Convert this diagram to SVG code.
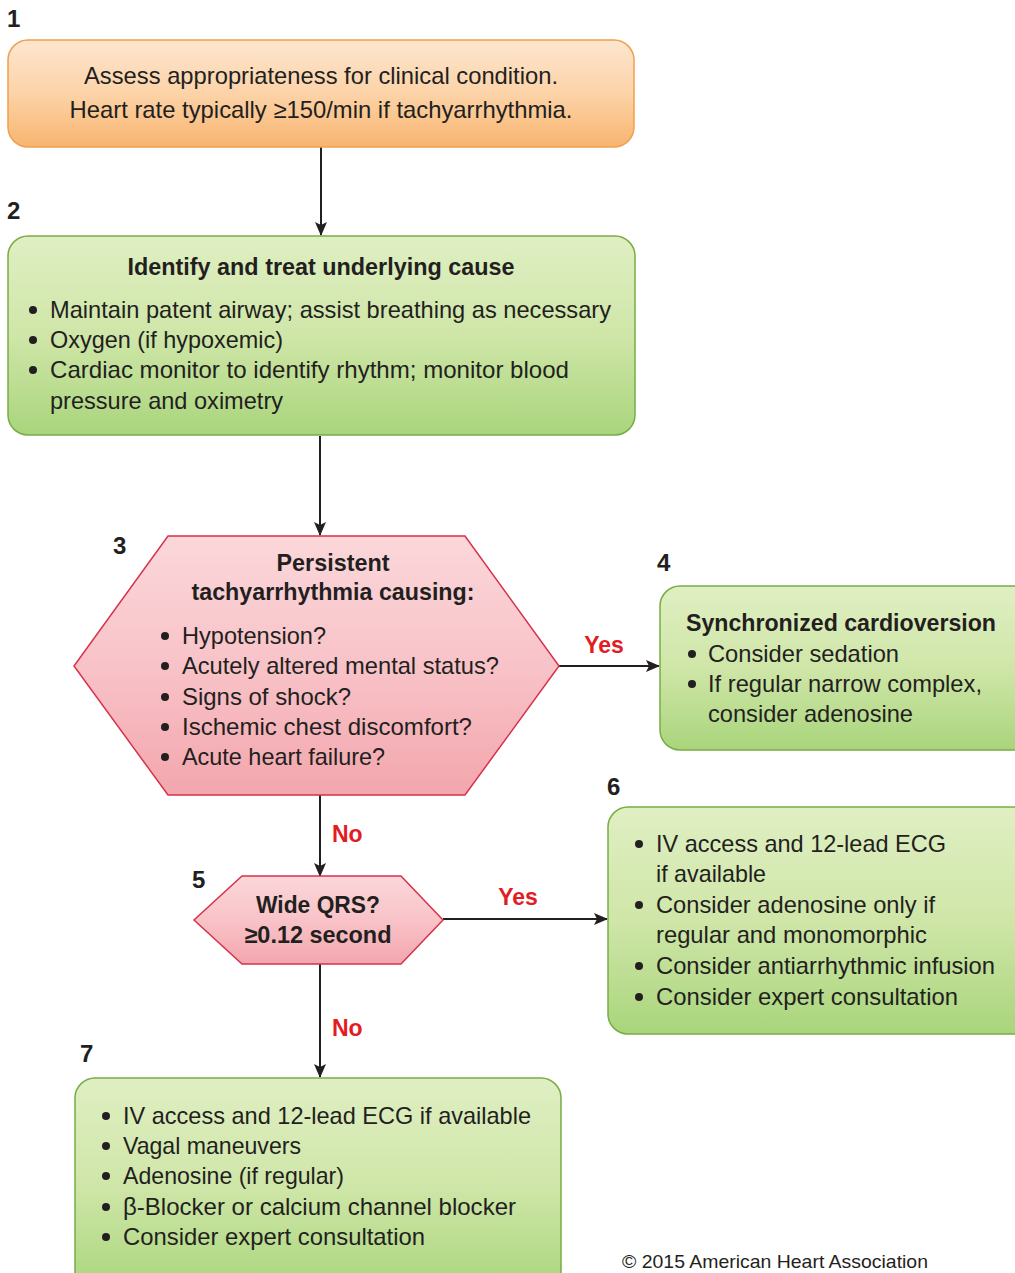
<svg xmlns="http://www.w3.org/2000/svg" width="1015" height="1273" viewBox="0 0 1015 1273">
<defs>
<linearGradient id="gOrange" x1="0" y1="0" x2="0" y2="1"><stop offset="0" stop-color="#fde6cf"/><stop offset="0.5" stop-color="#fcd3a8"/><stop offset="1" stop-color="#f8b46f"/></linearGradient>
<linearGradient id="gGreen" x1="0" y1="0" x2="0" y2="1"><stop offset="0" stop-color="#e0efc3"/><stop offset="0.5" stop-color="#cfe6a8"/><stop offset="1" stop-color="#a9d57c"/></linearGradient>
<linearGradient id="gPink" x1="0" y1="0" x2="0" y2="1"><stop offset="0" stop-color="#fbd7da"/><stop offset="0.5" stop-color="#f8c3c8"/><stop offset="1" stop-color="#f3a6ad"/></linearGradient>
<marker id="arr" viewBox="0 0 14 12" refX="13" refY="6" markerWidth="14" markerHeight="12" markerUnits="userSpaceOnUse" orient="auto"><path d="M0,0 L14,6 L0,12 L3,6 Z" fill="#231f20"/></marker>
<style>
text{font-family:"Liberation Sans",Arial,sans-serif;fill:#231f20;}
.t{font-size:24px;}
.b{font-size:24px;font-weight:bold;}
.num{font-size:24px;font-weight:bold;}
.red{font-size:23px;font-weight:bold;fill:#e31b23;}
.orange{fill:url(#gOrange);stroke:#f0a04e;stroke-width:1.5;}
.green{fill:url(#gGreen);stroke:#77ad45;stroke-width:1.5;}
.pink{fill:url(#gPink);stroke:#d6324a;stroke-width:1.5;}
.conn{stroke:#231f20;stroke-width:2;fill:none;marker-end:url(#arr);}
.copy{font-size:19px;}
</style>
</defs>

<g id="connectors">
<line class="conn" x1="321" y1="147" x2="321" y2="235"/>
<line class="conn" x1="320" y1="436" x2="320" y2="535"/>
<line class="conn" x1="559" y1="666" x2="659" y2="666"/>
<line class="conn" x1="320" y1="795" x2="320" y2="876"/>
<line class="conn" x1="443" y1="919" x2="607" y2="919"/>
<line class="conn" x1="320" y1="964" x2="320" y2="1077"/>
<text class="red" x="604" y="653" text-anchor="middle">Yes</text>
<text class="red" x="332" y="842">No</text>
<text class="red" x="518" y="905" text-anchor="middle">Yes</text>
<text class="red" x="332" y="1036">No</text>
</g>

<g id="node1">
<text class="num" x="7" y="27">1</text>
<rect class="orange" x="8" y="40" width="626" height="107" rx="20"/>
<text class="t" x="321" y="84" text-anchor="middle" textLength="474" lengthAdjust="spacingAndGlyphs">Assess appropriateness for clinical condition.</text>
<text class="t" x="321" y="118" text-anchor="middle" textLength="503" lengthAdjust="spacingAndGlyphs">Heart rate typically ≥150/min if tachyarrhythmia.</text>
</g>

<g id="node2">
<text class="num" x="7" y="219">2</text>
<rect class="green" x="8" y="236" width="627" height="199" rx="20"/>
<text class="b" x="321" y="275" text-anchor="middle" textLength="387" lengthAdjust="spacingAndGlyphs">Identify and treat underlying cause</text>
<circle cx="33" cy="310" r="4" fill="#231f20"/>
<circle cx="33" cy="340" r="4" fill="#231f20"/>
<circle cx="33" cy="370" r="4" fill="#231f20"/>
<text class="t" x="50" y="318" textLength="561" lengthAdjust="spacingAndGlyphs">Maintain patent airway; assist breathing as necessary</text>
<text class="t" x="50" y="348" textLength="233" lengthAdjust="spacingAndGlyphs">Oxygen (if hypoxemic)</text>
<text class="t" x="50" y="378" textLength="519" lengthAdjust="spacingAndGlyphs">Cardiac monitor to identify rhythm; monitor blood</text>
<text class="t" x="50" y="409" textLength="233" lengthAdjust="spacingAndGlyphs">pressure and oximetry</text>
</g>

<g id="node3">
<text class="num" x="113" y="554">3</text>
<polygon class="pink" points="168,536 465,536 559,666 465,795 168,795 74,666"/>
<text class="b" x="333" y="571" text-anchor="middle" textLength="113" lengthAdjust="spacingAndGlyphs">Persistent</text>
<text class="b" x="333" y="600" text-anchor="middle" textLength="283" lengthAdjust="spacingAndGlyphs">tachyarrhythmia causing:</text>
<circle cx="165" cy="636" r="4" fill="#231f20"/>
<circle cx="165" cy="666" r="4" fill="#231f20"/>
<circle cx="165" cy="697" r="4" fill="#231f20"/>
<circle cx="165" cy="727" r="4" fill="#231f20"/>
<circle cx="165" cy="757" r="4" fill="#231f20"/>
<text class="t" x="182" y="644" textLength="144" lengthAdjust="spacingAndGlyphs">Hypotension?</text>
<text class="t" x="182" y="674" textLength="317" lengthAdjust="spacingAndGlyphs">Acutely altered mental status?</text>
<text class="t" x="182" y="705" textLength="169" lengthAdjust="spacingAndGlyphs">Signs of shock?</text>
<text class="t" x="182" y="735" textLength="290" lengthAdjust="spacingAndGlyphs">Ischemic chest discomfort?</text>
<text class="t" x="182" y="765" textLength="203" lengthAdjust="spacingAndGlyphs">Acute heart failure?</text>
</g>

<g id="node4">
<text class="num" x="657" y="571">4</text>
<rect class="green" x="660" y="586" width="380" height="164" rx="20"/>
<text class="b" x="686" y="631" textLength="310" lengthAdjust="spacingAndGlyphs">Synchronized cardioversion</text>
<circle cx="692" cy="654" r="4" fill="#231f20"/>
<circle cx="692" cy="684" r="4" fill="#231f20"/>
<text class="t" x="708" y="662" textLength="191" lengthAdjust="spacingAndGlyphs">Consider sedation</text>
<text class="t" x="708" y="692" textLength="274" lengthAdjust="spacingAndGlyphs">If regular narrow complex,</text>
<text class="t" x="708" y="722" textLength="205" lengthAdjust="spacingAndGlyphs">consider adenosine</text>
</g>

<g id="node5">
<text class="num" x="192" y="888">5</text>
<polygon class="pink" points="242,876 401,876 443,920 401,964 242,964 194,920"/>
<text class="b" x="318" y="913" text-anchor="middle" textLength="124" lengthAdjust="spacingAndGlyphs">Wide QRS?</text>
<text class="b" x="318" y="943" text-anchor="middle" textLength="147" lengthAdjust="spacingAndGlyphs">≥0.12 second</text>
</g>

<g id="node6">
<text class="num" x="607" y="795">6</text>
<rect class="green" x="608" y="807" width="430" height="227" rx="20"/>
<circle cx="639" cy="844" r="4" fill="#231f20"/>
<circle cx="639" cy="905" r="4" fill="#231f20"/>
<circle cx="639" cy="966" r="4" fill="#231f20"/>
<circle cx="639" cy="997" r="4" fill="#231f20"/>
<text class="t" x="656" y="852" textLength="290" lengthAdjust="spacingAndGlyphs">IV access and 12-lead ECG</text>
<text class="t" x="656" y="882" textLength="110" lengthAdjust="spacingAndGlyphs">if available</text>
<text class="t" x="656" y="913" textLength="279" lengthAdjust="spacingAndGlyphs">Consider adenosine only if</text>
<text class="t" x="656" y="943" textLength="271" lengthAdjust="spacingAndGlyphs">regular and monomorphic</text>
<text class="t" x="656" y="974" textLength="339" lengthAdjust="spacingAndGlyphs">Consider antiarrhythmic infusion</text>
<text class="t" x="656" y="1005" textLength="302" lengthAdjust="spacingAndGlyphs">Consider expert consultation</text>
</g>

<g id="node7">
<text class="num" x="80" y="1062">7</text>
<rect class="green" x="75" y="1078" width="486" height="215" rx="20"/>
<circle cx="106" cy="1116" r="4" fill="#231f20"/>
<circle cx="106" cy="1146" r="4" fill="#231f20"/>
<circle cx="106" cy="1176" r="4" fill="#231f20"/>
<circle cx="106" cy="1207" r="4" fill="#231f20"/>
<circle cx="106" cy="1237" r="4" fill="#231f20"/>
<text class="t" x="123" y="1124" textLength="408" lengthAdjust="spacingAndGlyphs">IV access and 12-lead ECG if available</text>
<text class="t" x="123" y="1154" textLength="178" lengthAdjust="spacingAndGlyphs">Vagal maneuvers</text>
<text class="t" x="123" y="1184" textLength="221" lengthAdjust="spacingAndGlyphs">Adenosine (if regular)</text>
<text class="t" x="123" y="1215" textLength="393" lengthAdjust="spacingAndGlyphs">β-Blocker or calcium channel blocker</text>
<text class="t" x="123" y="1245" textLength="302" lengthAdjust="spacingAndGlyphs">Consider expert consultation</text>
</g>

<text class="copy" x="622" y="1268" textLength="306" lengthAdjust="spacingAndGlyphs">© 2015 American Heart Association</text>
</svg>
